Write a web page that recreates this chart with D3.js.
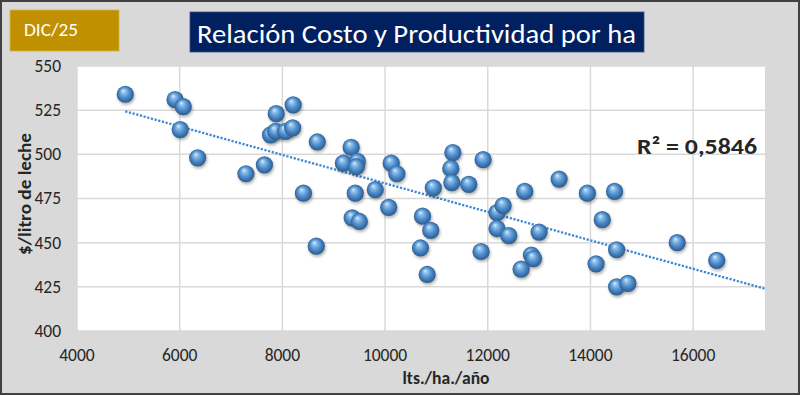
<!DOCTYPE html>
<html>
<head>
<meta charset="utf-8">
<script src="https://cdn.jsdelivr.net/npm/d3@7"></script>
<style>
    body { margin: 0; background: #fff; }
    svg { display: block; font-family: Carlito, 'Open Sans', 'Noto Sans', sans-serif; }
</style>
</head>
<body>
<svg id="chart" width="800" height="396"></svg>
<script>
// data
const productividad = [4940, 5910, 6070, 6010, 6350, 7290, 7650, 7880, 8210, 7770, 7870, 8060, 8200,
    8680, 9340, 9190, 9460, 9440, 8410, 9420, 8660, 9360, 9500, 9810, 10120, 10230, 10070,
    10940, 10730, 10890, 10690, 10820, 11320, 11280, 11300, 11630, 11910, 12180, 12300, 12180,
    12410, 11870, 12720, 13390, 13000, 12850, 12890, 12650, 13940, 14470, 14230, 14510, 14110,
    14510, 14730, 15690, 16460]
const costo = [534, 531, 527, 514, 498, 489, 494, 523, 528, 511, 513, 513, 515,
    507, 504, 495, 496, 493, 478, 478, 448, 464, 462, 480, 495, 489, 470,
    481, 465, 457, 447, 432, 501, 492, 484, 483, 497, 467, 471, 458,
    454, 445, 479, 486, 456, 443, 441, 435, 478, 479, 463, 446, 438,
    425, 427, 450, 440]
const xTicks = [4000, 6000, 8000, 10000, 12000, 14000, 16000]
const yTicks = [400, 425, 450, 475, 500, 525, 550]
const xDomain = [4000, 17400]
const r2Label = 'R² = 0,5846'
const titulo = 'Relación Costo y Productividad por ha'
const fecha = 'DIC/25'

const svg = d3.select('#chart')
const plot = {left: 77, right: 765, top: 66, bottom: 331}

const x = d3.scaleLinear().domain(xDomain).range([plot.left, plot.right])
const y = d3.scaleLinear().domain([400, 550]).range([plot.bottom, plot.top])

// sphere gradient + soft shadow
const defs = svg.append('defs')
const grad = defs.append('radialGradient').attr('id', 'ball')
    .attr('cx', '50%').attr('cy', '50%').attr('r', '55%')
    .attr('fx', '38%').attr('fy', '28%')
grad.selectAll('stop').data([
    [0, '#e2f0fb'], [0.2, '#93c2ea'], [0.52, '#5292d1'], [0.82, '#3569a0'], [1, '#2b5687']
]).enter().append('stop')
    .attr('offset', d => d[0]).attr('stop-color', d => d[1])
defs.append('filter').attr('id', 'blur').attr('x', '-50%').attr('y', '-50%')
    .attr('width', '200%').attr('height', '200%')
    .append('feGaussianBlur').attr('stdDeviation', 1.6)

// frame
svg.append('rect').attr('x', 1).attr('y', 1).attr('width', 798).attr('height', 393)
    .attr('fill', '#d9d9d9').attr('stroke', '#404040').attr('stroke-width', 2)

svg.append('rect').attr('x', plot.left).attr('y', plot.top)
    .attr('width', plot.right - plot.left).attr('height', plot.bottom - plot.top)
    .attr('fill', '#fff')

// grid
svg.append('g').selectAll('line.v').data(xTicks).enter().append('line')
    .attr('x1', d => x(d)).attr('x2', d => x(d))
    .attr('y1', plot.top).attr('y2', plot.bottom)
    .attr('stroke', '#d9d9d9').attr('stroke-width', 1.5)
svg.append('g').selectAll('line.h').data(yTicks).enter().append('line')
    .attr('x1', plot.left).attr('x2', plot.right)
    .attr('y1', d => y(d)).attr('y2', d => y(d))
    .attr('stroke', '#d9d9d9').attr('stroke-width', 1.5)

// tick labels
svg.append('g').selectAll('text').data(yTicks).enter().append('text')
    .attr('x', 61).attr('y', d => y(d)).attr('dy', '0.34em')
    .attr('text-anchor', 'end').attr('font-size', 17.5).attr('fill', '#262626')
    .text(d => d)
svg.append('g').selectAll('text').data(xTicks).enter().append('text')
    .attr('x', d => x(d)).attr('y', 361)
    .attr('text-anchor', 'middle').attr('font-size', 17.5).attr('fill', '#262626')
    .text(d => d)

// axis titles
svg.append('text').attr('transform', 'translate(31,194) rotate(-90)')
    .attr('text-anchor', 'middle').attr('font-size', 18).attr('font-weight', 'bold')
    .attr('fill', '#262626').attr('textLength', 122).attr('lengthAdjust', 'spacingAndGlyphs')
    .text('$/litro de leche')
svg.append('text').attr('x', 446).attr('y', 383.5)
    .attr('text-anchor', 'middle').attr('font-size', 18).attr('font-weight', 'bold')
    .attr('fill', '#262626').attr('textLength', 87).attr('lengthAdjust', 'spacingAndGlyphs')
    .text('lts./ha./año')

// linear trendline (least squares), forecast to the axis end
const n = productividad.length
const mx = d3.mean(productividad), my = d3.mean(costo)
const sxy = d3.sum(productividad, (v, i) => (v - mx) * (costo[i] - my))
const sxx = d3.sum(productividad, v => (v - mx) * (v - mx))
const slope = sxy / sxx
const icpt = my - slope * mx
const trendX = [d3.min(productividad), xDomain[1]]
svg.append('path')
    .attr('d', d3.line().x(d => x(d)).y(d => y(icpt + slope * d))(trendX))
    .attr('fill', 'none').attr('stroke', '#3a87d6').attr('stroke-width', 2.3)
    .attr('stroke-dasharray', '2.2 1.6')

// points
const pts = d3.range(n).map(i => ({x: productividad[i], y: costo[i]}))
const g = svg.append('g')
g.selectAll('ellipse').data(pts).enter().append('ellipse')
    .attr('cx', d => x(d.x) + 1).attr('cy', d => y(d.y) + 2)
    .attr('rx', 8.6).attr('ry', 8.6)
    .attr('fill', '#000').attr('opacity', 0.3).attr('filter', 'url(#blur)')
g.selectAll('circle').data(pts).enter().append('circle')
    .attr('cx', d => x(d.x)).attr('cy', d => y(d.y)).attr('r', 8.6)
    .attr('fill', 'url(#ball)')

// R² label
svg.append('text').attr('x', 637).attr('y', 154)
    .attr('font-size', 23).attr('font-weight', 'bold').attr('fill', '#262626')
    .attr('textLength', 120).attr('lengthAdjust', 'spacingAndGlyphs')
    .text(r2Label)

// header boxes
svg.append('rect').attr('x', 10).attr('y', 10).attr('width', 109).attr('height', 41)
    .attr('fill', '#bf9000').attr('stroke', '#d8b54a').attr('stroke-width', 0.8)
svg.append('text').attr('x', 24).attr('y', 35.5).attr('font-size', 18).attr('fill', '#fff')
    .attr('textLength', 54).attr('lengthAdjust', 'spacingAndGlyphs').text(fecha)

svg.append('rect').attr('x', 190).attr('y', 12).attr('width', 454).attr('height', 40)
    .attr('fill', '#002060').attr('stroke', '#3b4f80').attr('stroke-width', 0.8)
svg.append('text').attr('x', 197).attr('y', 42.7).attr('font-size', 27).attr('fill', '#fff')
    .attr('textLength', 439).attr('lengthAdjust', 'spacingAndGlyphs').text(titulo)
</script>
</body>
</html>
